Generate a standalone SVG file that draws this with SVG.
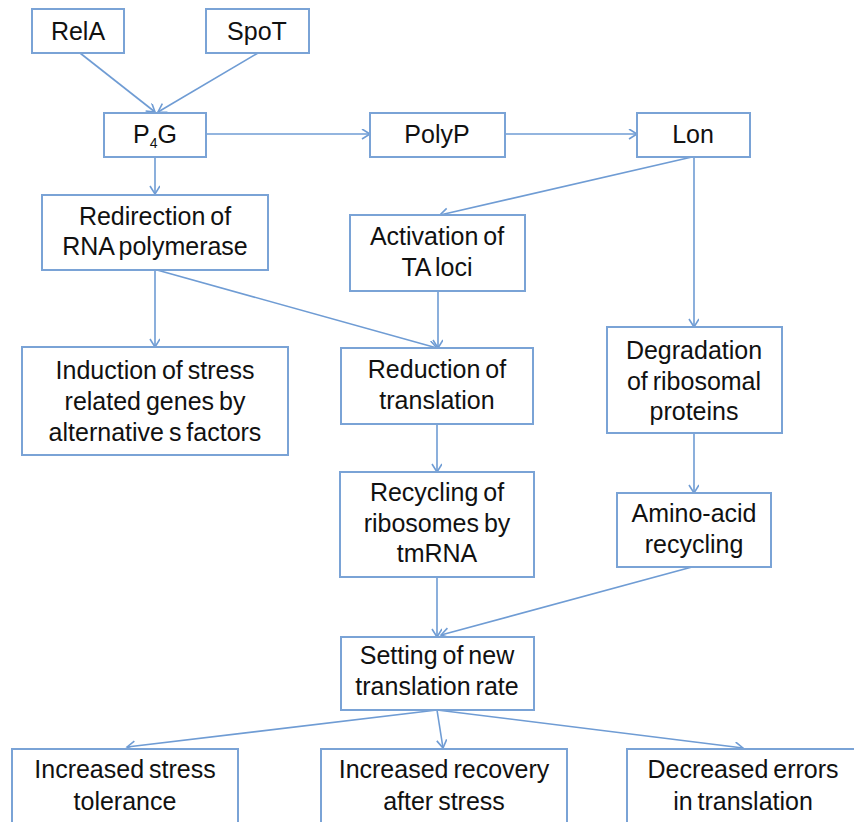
<svg xmlns="http://www.w3.org/2000/svg" width="854" height="822" viewBox="0 0 854 822">
<style>
.box{fill:#fff;stroke:#7aa3d6;stroke-width:2}
.t{font-family:"Liberation Sans",Arial,sans-serif;font-size:25px;word-spacing:-2px;fill:#111;text-anchor:middle}
.c{fill:none;stroke:#6f9cd4;stroke-width:1.6}
</style>
<defs>
<marker id="ah" markerWidth="12" markerHeight="12" refX="9" refY="5" orient="auto" markerUnits="userSpaceOnUse">
<path d="M1,0 L9,5 L1,10" fill="none" stroke="#6f9cd4" stroke-width="1.6"/>
</marker>
</defs>
<rect width="854" height="822" fill="#fff"/>
<g id="connectors">
<line class="c" x1="80" y1="53" x2="155" y2="112" marker-end="url(#ah)"/>
<line class="c" x1="258" y1="53" x2="158" y2="112" marker-end="url(#ah)"/>
<line class="c" x1="155" y1="157" x2="155" y2="194" marker-end="url(#ah)"/>
<line class="c" x1="206" y1="134" x2="370" y2="134" marker-end="url(#ah)"/>
<line class="c" x1="505" y1="134" x2="637" y2="134" marker-end="url(#ah)"/>
<line class="c" x1="692" y1="157" x2="440" y2="215" marker-end="url(#ah)"/>
<line class="c" x1="694" y1="157" x2="694" y2="327" marker-end="url(#ah)"/>
<line class="c" x1="155" y1="270" x2="155" y2="347" marker-end="url(#ah)"/>
<line class="c" x1="157" y1="270" x2="437" y2="348" marker-end="url(#ah)"/>
<line class="c" x1="438" y1="291" x2="438" y2="348" marker-end="url(#ah)"/>
<line class="c" x1="437" y1="424" x2="437" y2="472" marker-end="url(#ah)"/>
<line class="c" x1="694" y1="433" x2="694" y2="493" marker-end="url(#ah)"/>
<line class="c" x1="437" y1="577" x2="437" y2="637" marker-end="url(#ah)"/>
<line class="c" x1="692" y1="567" x2="441" y2="635" marker-end="url(#ah)"/>
<line class="c" x1="437" y1="710" x2="127" y2="747" marker-end="url(#ah)"/>
<line class="c" x1="437" y1="710" x2="443" y2="748" marker-end="url(#ah)"/>
<line class="c" x1="437" y1="710" x2="743" y2="748" marker-end="url(#ah)"/>
</g>
<g id="relA"><rect class="box" x="32" y="9" width="92" height="44"/><text class="t" x="78" y="40">RelA</text></g>
<g id="spoT"><rect class="box" x="206" y="9" width="103" height="44"/><text class="t" x="257" y="40">SpoT</text></g>
<g id="p4g"><rect class="box" x="104" y="113" width="102" height="44"/><text class="t" x="155" y="143">P<tspan font-size="14" dy="5" fill="#111">4</tspan><tspan dy="-5">G</tspan></text></g>
<g id="polyP"><rect class="box" x="370" y="113" width="135" height="44"/><text class="t" x="437" y="143">PolyP</text></g>
<g id="lon"><rect class="box" x="637" y="113" width="113" height="44"/><text class="t" x="693" y="143">Lon</text></g>
<g id="redirection"><rect class="box" x="42" y="195" width="226" height="75"/><text class="t" x="155" y="225">Redirection of</text><text class="t" x="155" y="255">RNA polymerase</text></g>
<g id="activation"><rect class="box" x="350" y="215" width="175" height="76"/><text class="t" x="437" y="245">Activation of</text><text class="t" x="437" y="276">TA loci</text></g>
<g id="induction"><rect class="box" x="22" y="347" width="266" height="108"/><text class="t" x="155" y="379">Induction of stress</text><text class="t" x="155" y="410">related genes by</text><text class="t" x="155" y="441">alternative s factors</text></g>
<g id="reduction"><rect class="box" x="341" y="348" width="192" height="76"/><text class="t" x="437" y="378">Reduction of</text><text class="t" x="437" y="409">translation</text></g>
<g id="degradation"><rect class="box" x="607" y="327" width="175" height="106"/><text class="t" x="694" y="359">Degradation</text><text class="t" x="694" y="390">of ribosomal</text><text class="t" x="694" y="420">proteins</text></g>
<g id="recyclingRibosomes"><rect class="box" x="340" y="472" width="194" height="105"/><text class="t" x="437" y="501">Recycling of</text><text class="t" x="437" y="532">ribosomes by</text><text class="t" x="437" y="562">tmRNA</text></g>
<g id="aminoAcid"><rect class="box" x="617" y="493" width="154" height="74"/><text class="t" x="694" y="522">Amino-acid</text><text class="t" x="694" y="553">recycling</text></g>
<g id="setting"><rect class="box" x="341" y="637" width="193" height="73"/><text class="t" x="437" y="664">Setting of new</text><text class="t" x="437" y="695">translation rate</text></g>
<g id="stressTolerance"><rect class="box" x="12" y="749" width="226" height="90"/><text class="t" x="125" y="778">Increased stress</text><text class="t" x="125" y="810">tolerance</text></g>
<g id="recovery"><rect class="box" x="321" y="749" width="246" height="90"/><text class="t" x="444" y="778">Increased recovery</text><text class="t" x="444" y="810">after stress</text></g>
<g id="errors"><rect class="box" x="627" y="749" width="250" height="90"/><text class="t" x="743" y="778">Decreased errors</text><text class="t" x="743" y="810">in translation</text></g>
</svg>
